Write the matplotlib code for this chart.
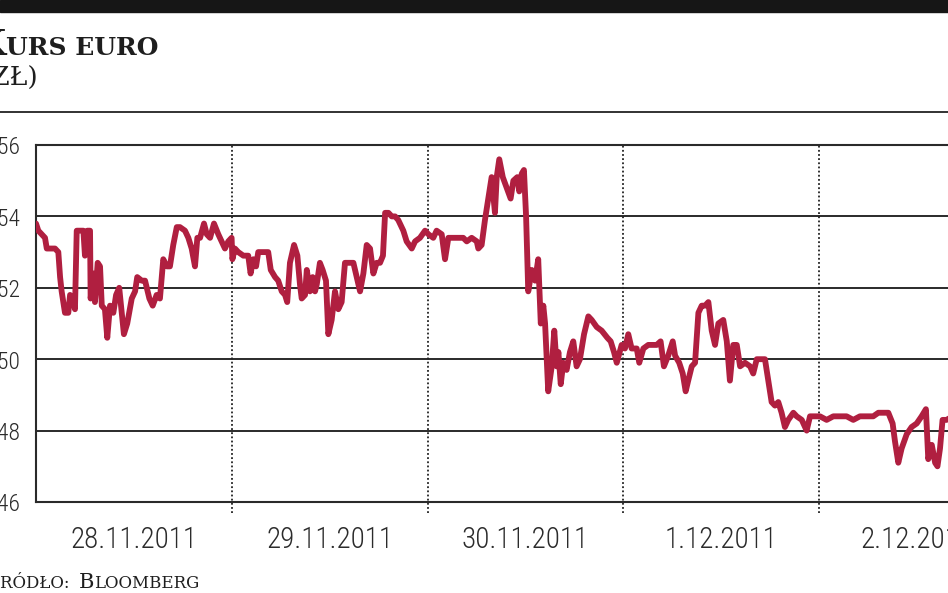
import matplotlib
matplotlib.use("Agg")
import matplotlib.pyplot as plt
from matplotlib.patches import Rectangle
from matplotlib.lines import Line2D

# etykiety dni (środek każdego dnia na osi x)
days = ["28.11.2011", "29.11.2011", "30.11.2011", "1.12.2011", "2.12.2011"]
y_ticks = [4.46, 4.48, 4.50, 4.52, 4.54, 4.56]
y_labels = ["4,46", "4,48", "4,50", "4,52", "4,54", "4,56"]

# czas w dniach od początku 28.11.2011
t = [0.000, 0.012, 0.029, 0.046, 0.055, 0.097, 0.114, 0.123, 0.131, 0.148,
     0.165, 0.174, 0.187, 0.199, 0.208, 0.225, 0.242, 0.250, 0.262, 0.276,
     0.279, 0.293, 0.301, 0.315, 0.327, 0.336, 0.352, 0.364, 0.378, 0.395,
     0.409, 0.425, 0.449, 0.466, 0.489, 0.506, 0.517, 0.540, 0.557, 0.579,
     0.596, 0.616, 0.633, 0.650, 0.668, 0.684, 0.701, 0.719, 0.735, 0.761,
     0.778, 0.795, 0.812, 0.824, 0.838, 0.858, 0.872, 0.889, 0.909, 0.931,
     0.948, 0.965, 0.982, 0.999,
     1.003, 1.016, 1.033, 1.059, 1.084, 1.096, 1.110, 1.124, 1.135, 1.161,
     1.186, 1.199, 1.221, 1.237, 1.255, 1.272, 1.283, 1.297, 1.318, 1.335,
     1.348, 1.357, 1.374, 1.383, 1.399, 1.413, 1.425, 1.434, 1.450, 1.464,
     1.481, 1.493, 1.510, 1.527, 1.544, 1.561, 1.578, 1.600, 1.621, 1.638,
     1.655, 1.672, 1.689, 1.706, 1.723, 1.740, 1.757, 1.772, 1.783, 1.800,
     1.817, 1.834, 1.850, 1.876, 1.893, 1.919, 1.936, 1.961, 1.987,
     2.004, 2.029, 2.046, 2.072, 2.089, 2.106, 2.131, 2.149, 2.165, 2.182,
     2.200, 2.225, 2.251, 2.259, 2.276, 2.293, 2.310, 2.327, 2.344, 2.353,
     2.366, 2.384, 2.404, 2.424, 2.438, 2.458, 2.468, 2.481, 2.492, 2.503,
     2.514, 2.532, 2.549, 2.565, 2.578, 2.591, 2.600, 2.616, 2.634, 2.647,
     2.659, 2.668, 2.680, 2.693, 2.710, 2.727, 2.744, 2.761, 2.778, 2.799,
     2.821, 2.838, 2.864, 2.889, 2.918, 2.935, 2.952, 2.966, 2.991,
     3.008, 3.025, 3.042, 3.068, 3.081, 3.102, 3.127, 3.153, 3.170, 3.190,
     3.207, 3.229, 3.252, 3.264, 3.285, 3.303, 3.318, 3.331, 3.349, 3.366,
     3.383, 3.400, 3.417, 3.434, 3.451, 3.468, 3.485, 3.510, 3.528, 3.544,
     3.561, 3.579, 3.596, 3.621, 3.647, 3.663, 3.681, 3.698, 3.723, 3.740,
     3.757, 3.774, 3.791, 3.808, 3.825, 3.842, 3.868, 3.885, 3.911, 3.936,
     3.953, 3.979,
     4.004, 4.038, 4.072, 4.106, 4.140, 4.174, 4.208, 4.243, 4.276, 4.302,
     4.327, 4.353, 4.375, 4.387, 4.404, 4.421, 4.447, 4.472, 4.498, 4.523,
     4.545, 4.557, 4.575, 4.592, 4.604, 4.617, 4.630, 4.651, 4.680]

# kurs EUR/PLN
rate = [4.538, 4.536, 4.535, 4.534, 4.531, 4.531, 4.530, 4.523, 4.519, 4.513,
        4.513, 4.518, 4.517, 4.514, 4.536, 4.536, 4.536, 4.529, 4.536, 4.536,
        4.517, 4.524, 4.516, 4.527, 4.526, 4.515, 4.514, 4.506, 4.515, 4.513,
        4.518, 4.520, 4.507, 4.510, 4.517, 4.519, 4.523, 4.522, 4.522, 4.517,
        4.515, 4.518, 4.517, 4.528, 4.526, 4.526, 4.532, 4.537, 4.537, 4.536,
        4.534, 4.531, 4.526, 4.534, 4.534, 4.538, 4.535, 4.534, 4.538, 4.535,
        4.533, 4.531, 4.533, 4.534,
        4.528, 4.531, 4.530, 4.529, 4.529, 4.524, 4.528, 4.526, 4.530, 4.530,
        4.530, 4.525, 4.523, 4.522, 4.519, 4.518, 4.516, 4.527, 4.532, 4.529,
        4.521, 4.517, 4.518, 4.525, 4.519, 4.523, 4.519, 4.521, 4.527, 4.525,
        4.522, 4.507, 4.511, 4.519, 4.514, 4.516, 4.527, 4.527, 4.527, 4.523,
        4.519, 4.524, 4.532, 4.531, 4.524, 4.527, 4.527, 4.529, 4.541, 4.541,
        4.540, 4.540, 4.539, 4.536, 4.533, 4.531, 4.533, 4.534, 4.536,
        4.535, 4.534, 4.536, 4.535, 4.528, 4.534, 4.534, 4.534, 4.534, 4.534,
        4.533, 4.534, 4.533, 4.531, 4.532, 4.539, 4.545, 4.551, 4.541, 4.551,
        4.556, 4.551, 4.548, 4.545, 4.550, 4.551, 4.547, 4.552, 4.553, 4.540,
        4.519, 4.525, 4.522, 4.528, 4.510, 4.515, 4.510, 4.491, 4.498, 4.508,
        4.498, 4.502, 4.493, 4.499, 4.497, 4.502, 4.505, 4.498, 4.500, 4.507,
        4.512, 4.511, 4.509, 4.508, 4.506, 4.505, 4.502, 4.499, 4.504,
        4.503, 4.507, 4.503, 4.503, 4.499, 4.503, 4.504, 4.504, 4.504, 4.505,
        4.498, 4.501, 4.505, 4.501, 4.499, 4.496, 4.491, 4.494, 4.498, 4.499,
        4.513, 4.515, 4.515, 4.516, 4.508, 4.504, 4.510, 4.511, 4.505, 4.494,
        4.504, 4.504, 4.498, 4.499, 4.498, 4.496, 4.500, 4.500, 4.500, 4.494,
        4.488, 4.487, 4.488, 4.485, 4.481, 4.483, 4.485, 4.484, 4.483, 4.480,
        4.484, 4.484,
        4.484, 4.483, 4.484, 4.484, 4.484, 4.483, 4.484, 4.484, 4.484, 4.485,
        4.485, 4.485, 4.482, 4.477, 4.471, 4.475, 4.479, 4.481, 4.482, 4.484,
        4.486, 4.472, 4.476, 4.471, 4.470, 4.475, 4.483, 4.483, 4.484]

W, H = 948, 593
fig = plt.figure(figsize=(W / 100, H / 100), dpi=100)
fig.patch.set_facecolor("white")


def fx(px):
    return px / W


def fy(py):
    return 1 - py / H


num_font = ["Roboto Condensed", "Liberation Sans Narrow", "DejaVu Sans"]
text_col = "#2b2b2b"

# czarny pasek u góry i linia oddzielająca
fig.patches.append(Rectangle((0, fy(12)), 1, 12 / H, transform=fig.transFigure,
                             color="#161616", zorder=0))
fig.add_artist(Line2D([0, 1], [fy(112), fy(112)], lw=1.3, color="#222222"))


def small_caps(x, y, parts, **kw):
    # sklejamy kawałki tekstu o różnych rozmiarach (kapitaliki)
    r = fig.canvas.get_renderer()
    for s, size in parts:
        txt = fig.text(fx(x), fy(y), s, fontsize=size, va="baseline", **kw)
        x += txt.get_window_extent(r).width + (size * 0.35 if s.endswith(" ") else 0)


# tytuł
fig.text(fx(6), fy(55), "K", fontsize=25, ha="right", va="baseline",
         family="DejaVu Serif", weight="bold", color="#1e1e1e")
small_caps(6, 55, [("URS EURO", 18)], family="DejaVu Serif", weight="bold", color="#1e1e1e")
fig.text(fx(39), fy(86), "(ZŁ)", fontsize=19, ha="right", va="baseline",
         family="DejaVu Serif", color="#1e1e1e")

# źródło
small_caps(-15, 588, [("Ź", 15), ("RÓDŁO: ", 12), ("B", 15), ("LOOMBERG", 12)],
           family="DejaVu Serif", color="#1e1e1e")

ax = fig.add_axes([fx(36), fy(502), 979 / W, 357 / H])
ax.set_xlim(0, 5)
ax.set_ylim(4.46, 4.56)
for side in ["left", "top", "bottom", "right"]:
    ax.spines[side].set_linewidth(1.5)
    ax.spines[side].set_color("#2a2a2a")

for yv in y_ticks[1:-1]:
    ax.axhline(yv, color="#2a2a2a", lw=1.4, zorder=1)
for d in range(1, 5):
    ax.plot([d, d], [4.457, 4.56], ls=(0, (1, 1.3)), lw=1.3, color="#222222",
            clip_on=False, zorder=1)

ax.plot(t, rate, color="#B01F40", lw=4.2, solid_joinstyle="round",
        solid_capstyle="round", zorder=3)

ax.set_yticks(y_ticks)
ax.set_yticklabels(y_labels, family=num_font, fontsize=17, weight="light", color=text_col)
ax.set_xticks([i + 0.5 for i in range(len(days))])
ax.set_xticklabels(days, family=num_font, fontsize=21, weight="light", color=text_col)
ax.tick_params(axis="y", length=0, pad=11.5)
ax.tick_params(axis="x", length=0, pad=17)

fig.savefig("out.png", dpi=100)
